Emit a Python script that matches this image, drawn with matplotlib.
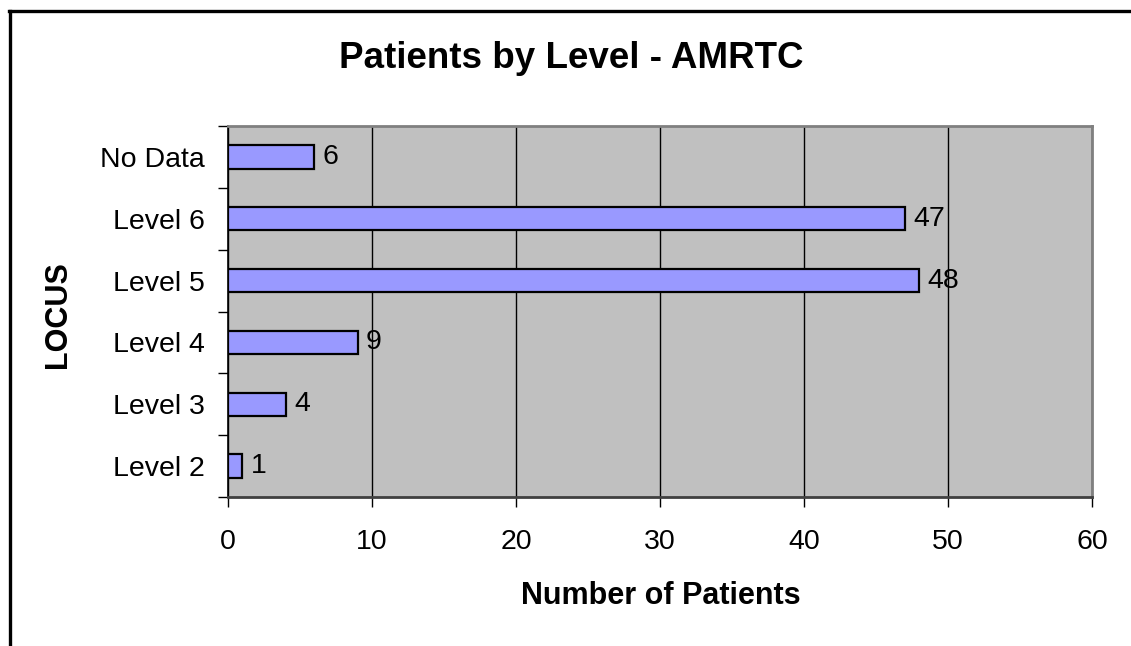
import matplotlib
matplotlib.use("Agg")
import matplotlib.pyplot as plt
from matplotlib.lines import Line2D

categories = ["Level 2", "Level 3", "Level 4", "Level 5", "Level 6", "No Data"]
values = [1, 4, 9, 48, 47, 6]
xticks = [0, 10, 20, 30, 40, 50, 60]

plt.rcParams['font.family'] = ['Liberation Sans', 'DejaVu Sans']

W, H = 1131, 646
fig = plt.figure(figsize=(W / 100, H / 100), dpi=100)
fig.patch.set_facecolor('white')

ax = fig.add_axes([228 / W, 1 - 497 / H, (1092 - 228) / W, (497 - 126) / H])
ax.set_facecolor('#C0C0C0')

pos = list(range(len(categories)))
ax.barh(pos, values, height=0.38, color='#9999FF', edgecolor='black', linewidth=1.6, zorder=3)
for p, v in zip(pos, values):
    ax.annotate(str(v), (v, p), xytext=(6, 0), textcoords='offset points',
                va='center', ha='left', fontsize=20.5, zorder=4)

ax.set_xlim(0, 60)
ax.set_ylim(-0.5, len(categories) - 0.5)
ax.set_xticks(xticks)
ax.set_xticklabels([str(t) for t in xticks])
ax.xaxis.grid(True, color='black', linewidth=1.0, zorder=1)
ax.set_axisbelow(True)

ax.set_yticks(pos)
ax.set_yticklabels(categories)
ax.set_yticks([p - 0.5 for p in pos] + [pos[-1] + 0.5], minor=True)
ax.tick_params(axis='y', which='major', length=0, pad=17, labelsize=20.5)
ax.tick_params(axis='y', which='minor', length=7, width=1, direction='out', color='black')
ax.tick_params(axis='x', which='major', length=7, width=1, direction='out', pad=16, labelsize=20.5)

for s in ['top', 'right']:
    ax.spines[s].set_color('#808080')
    ax.spines[s].set_linewidth(2)
ax.spines['left'].set_color('black')
ax.spines['left'].set_linewidth(1.2)
ax.spines['bottom'].set_color('#404040')
ax.spines['bottom'].set_linewidth(2)

fig.text(571 / W, 1 - 58 / H, "Patients by Level - AMRTC", ha='center', va='center',
         fontsize=26.5, fontweight='bold')
fig.text(661 / W, 1 - 596 / H, "Number of Patients", ha='center', va='center',
         fontsize=22, fontweight='bold')
fig.text(58 / W, 1 - 315 / H, "LOCUS", ha='center', va='center', rotation=90,
         fontsize=22, fontweight='bold')

# Outer border (left and top visible)
fig.add_artist(Line2D([9.5 / W, 9.5 / W], [0, 1 - 10.5 / H], color='black', linewidth=2.4,
                      transform=fig.transFigure))
fig.add_artist(Line2D([8.5 / W, 1], [1 - 10.5 / H, 1 - 10.5 / H], color='black', linewidth=2.4,
                      transform=fig.transFigure))

fig.savefig("out.png", dpi=100, facecolor='white')
